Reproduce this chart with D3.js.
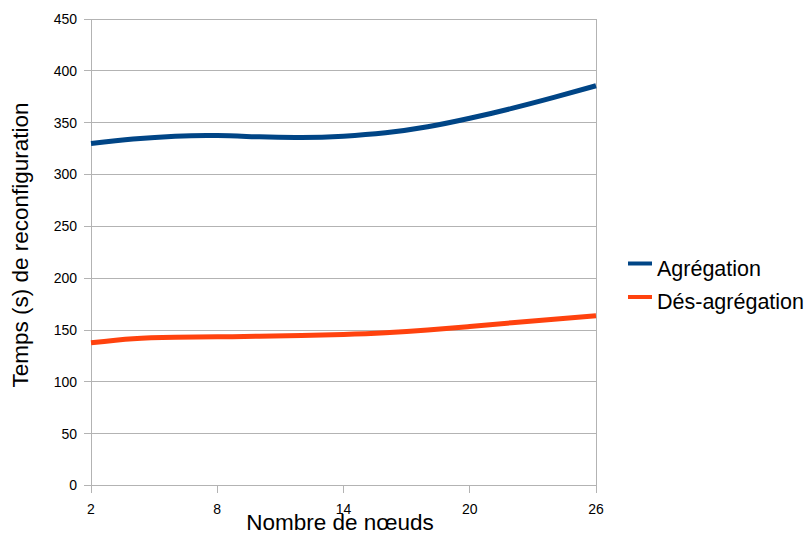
<!DOCTYPE html>
<html><head><meta charset="utf-8">
<script src="https://cdn.jsdelivr.net/npm/d3@7"></script>
<style>body{margin:0;background:#fff}text{font-family:"Liberation Sans",Arial,sans-serif}</style>
</head><body>
<svg id="c" width="807" height="534"></svg>
<script>
const nodes = [2, 4, 6, 8, 10, 12, 14, 16, 18, 20, 22, 24, 26];
const agregation = [330.0, 334.2, 337.0, 337.6, 336.3, 335.7, 337.0, 340.2, 346.0, 354.2, 363.8, 374.4, 385.6];
const desagregation = [137.6, 141.6, 142.9, 143.4, 144.0, 144.7, 145.7, 147.3, 149.9, 153.4, 157.0, 160.4, 163.7];
const yTicks = [0, 50, 100, 150, 200, 250, 300, 350, 400, 450];
const xTicks = [2, 8, 14, 20, 26];
const seriesNames = ["Agrégation", "Dés-agrégation"];
const colors = ["#004586", "#ff420e"];

const svg = d3.select("#c");
const L = 91, R = 596, T = 19, B = 485.5;
const x = d3.scaleLinear().domain([2, 26]).range([L, R]);
const y = d3.scaleLinear().domain([0, 450]).range([B, T]);
const grid = "#b3b3b3";

svg.append("g").selectAll("line").data(yTicks).join("line")
  .attr("x1", L - 7).attr("x2", R).attr("y1", d => y(d)).attr("y2", d => y(d))
  .attr("stroke", grid).attr("stroke-width", 1).attr("shape-rendering", "crispEdges");
svg.append("line").attr("x1", L).attr("x2", L).attr("y1", T).attr("y2", B)
  .attr("stroke", grid).attr("shape-rendering", "crispEdges");
svg.append("line").attr("x1", R).attr("x2", R).attr("y1", T).attr("y2", B + 7)
  .attr("stroke", grid).attr("shape-rendering", "crispEdges");
svg.append("g").selectAll("line").data(xTicks).join("line")
  .attr("x1", d => x(d)).attr("x2", d => x(d)).attr("y1", B).attr("y2", B + 7)
  .attr("stroke", grid).attr("shape-rendering", "crispEdges");

svg.append("g").selectAll("text").data(yTicks).join("text")
  .attr("x", 77).attr("y", d => y(d)).attr("dy", "0.35em")
  .attr("text-anchor", "end").attr("font-size", 14).attr("fill", "#000")
  .text(d => d);
svg.append("g").selectAll("text").data(xTicks).join("text")
  .attr("x", d => x(d)).attr("y", 514)
  .attr("text-anchor", "middle").attr("font-size", 14).attr("fill", "#000")
  .text(d => d);

svg.append("text").attr("x", 340).attr("y", 529.5).attr("text-anchor", "middle")
  .attr("font-size", 22.5).text("Nombre de nœuds");
svg.append("text").attr("transform", "translate(28,245) rotate(-90)")
  .attr("text-anchor", "middle").attr("font-size", 22.5).text("Temps (s) de reconfiguration");

const line = d3.line().x(d => x(d[0])).y(d => y(d[1])).curve(d3.curveNatural);
[agregation, desagregation].forEach((vals, i) => {
  svg.append("path").datum(nodes.map((n, j) => [n, vals[j]]))
    .attr("d", line).attr("fill", "none").attr("stroke", colors[i])
    .attr("stroke-width", 5).attr("stroke-linejoin", "round");
});

const lg = svg.append("g");
seriesNames.forEach((name, i) => {
  const yy = 263.5 + i * 33.5;
  lg.append("line").attr("x1", 628).attr("x2", 652).attr("y1", yy).attr("y2", yy)
    .attr("stroke", colors[i]).attr("stroke-width", 4);
  lg.append("text").attr("x", 657).attr("y", yy + 12).attr("font-size", 21.5).text(name);
});
</script>
</body></html>
